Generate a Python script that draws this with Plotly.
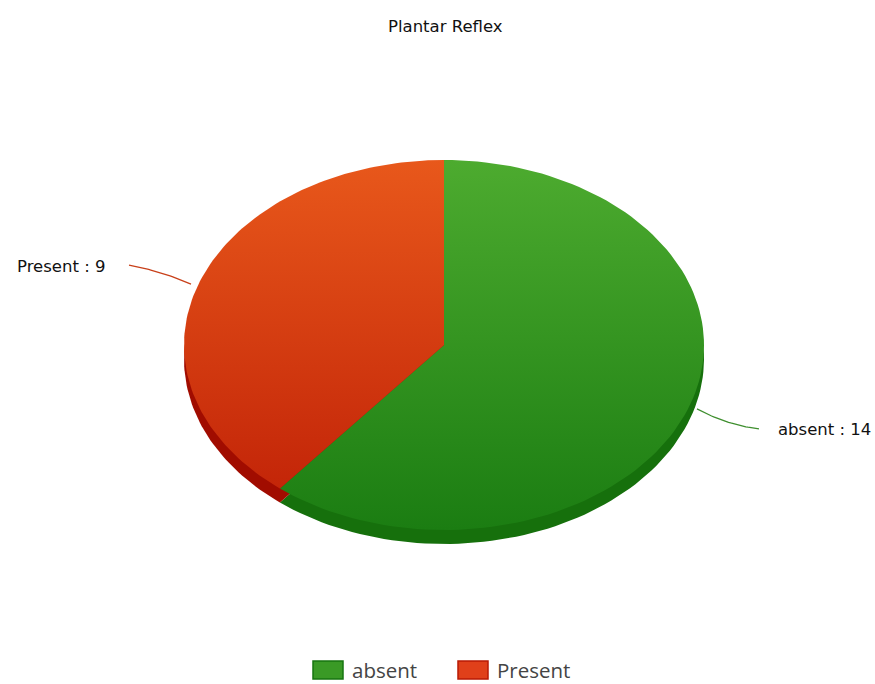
import numpy as np
import plotly.graph_objects as go

# Plantar reflex responses
categories = ["absent", "Present"]
counts = [14, 9]

title_text = "Plantar Reflex"

# Styling per slice
top_light = ["#4dab2f", "#e8581b"]
top_dark = ["#1b7d12", "#bf1f06"]
side_color = ["#16700c", "#a10c00"]
line_color = ["#3f8f2f", "#c8401a"]
swatch_center = ["#3a9a26", "#e0401a"]
swatch_edge = ["#177510", "#b81a04"]

W, H = 875, 684
cx, cy = 444, 345          # pie centre (px)
rx, ry = 260, 185          # ellipse radii (px)
depth = 14                 # visible thickness of the pie (px)


def ellipse_point(theta_deg, dy=0.0):
    t = np.radians(theta_deg)
    return cx + rx * np.sin(t), cy - ry * np.cos(t) + dy


def slice_path(a0, a1, dy=0.0):
    ts = np.linspace(a0, a1, 120)
    xs, ys = ellipse_point(ts, dy)
    x = np.concatenate([[cx], xs, [cx]])
    y = np.concatenate([[cy + dy], ys, [cy + dy]])
    return x, y


total = sum(counts)
angles = np.cumsum([0] + [c / total * 360 for c in counts])

fig = go.Figure()

# Side of the pie (shifted copy of each slice, darker)
for i, cat in enumerate(categories):
    x, y = slice_path(angles[i], angles[i + 1], depth)
    fig.add_trace(go.Scatter(x=x, y=y, mode="lines", fill="toself",
                             fillcolor=side_color[i], line=dict(width=0),
                             hoverinfo="skip", showlegend=False))

# Top faces with a vertical shading
for i, cat in enumerate(categories):
    x, y = slice_path(angles[i], angles[i + 1])
    fig.add_trace(go.Scatter(
        x=x, y=y, mode="lines", fill="toself", line=dict(width=0),
        fillgradient=dict(type="vertical", start=cy - ry, stop=cy + ry,
                          colorscale=[[0, top_light[i]], [1, top_dark[i]]]),
        name=cat, hoverinfo="skip", showlegend=False))

# Leader lines and labels
for i, cat in enumerate(categories):
    mid = (angles[i] + angles[i + 1]) / 2
    px, py = ellipse_point(mid)
    side = 1 if np.sin(np.radians(mid)) > 0 else -1
    ex, ey = px + side * 8, py + (2 if side > 0 else 1)
    bx, by = px + side * 38, py + (18 if side > 0 else -12)
    fx, fy = px + side * 70, py + (22 if side > 0 else -18)
    t = np.linspace(0, 1, 30)
    lx = (1 - t) ** 2 * ex + 2 * (1 - t) * t * bx + t ** 2 * fx
    ly = (1 - t) ** 2 * ey + 2 * (1 - t) * t * by + t ** 2 * fy
    fig.add_trace(go.Scatter(x=lx, y=ly, mode="lines",
                             line=dict(color=line_color[i], width=1.3),
                             hoverinfo="skip", showlegend=False))
    gap = 17 if side > 0 else 22
    fig.add_annotation(x=fx + side * gap, y=fy + 1, text=f"{cat} : {counts[i]}",
                       showarrow=False, xanchor="left" if side > 0 else "right",
                       yanchor="middle",
                       font=dict(family="DejaVu Sans", size=16.5, color="#111111"))

# Legend along the bottom
legend_x = [313, 458]
for i, cat in enumerate(categories):
    x0 = legend_x[i]
    fig.add_shape(type="rect", x0=x0, x1=x0 + 30, y0=661, y1=679,
                  line=dict(color=swatch_edge[i], width=1.5),
                  fillcolor=swatch_center[i])
    fig.add_annotation(x=x0 + 37, y=670, text=cat, showarrow=False,
                       xanchor="left", yanchor="middle",
                       font=dict(family="Open Sans", size=20.5, color="#444444"))

fig.add_annotation(x=cx + 1, y=26, text=title_text, showarrow=False,
                   xanchor="center", yanchor="middle",
                   font=dict(family="DejaVu Sans", size=16.5, color="#111111"))

fig.update_layout(
    width=W, height=H,
    margin=dict(l=0, r=0, t=0, b=0),
    paper_bgcolor="white", plot_bgcolor="white",
    xaxis=dict(range=[0, W], visible=False, fixedrange=True),
    yaxis=dict(range=[H, 0], visible=False, fixedrange=True),
    showlegend=False,
)

fig.write_html("out.html")
